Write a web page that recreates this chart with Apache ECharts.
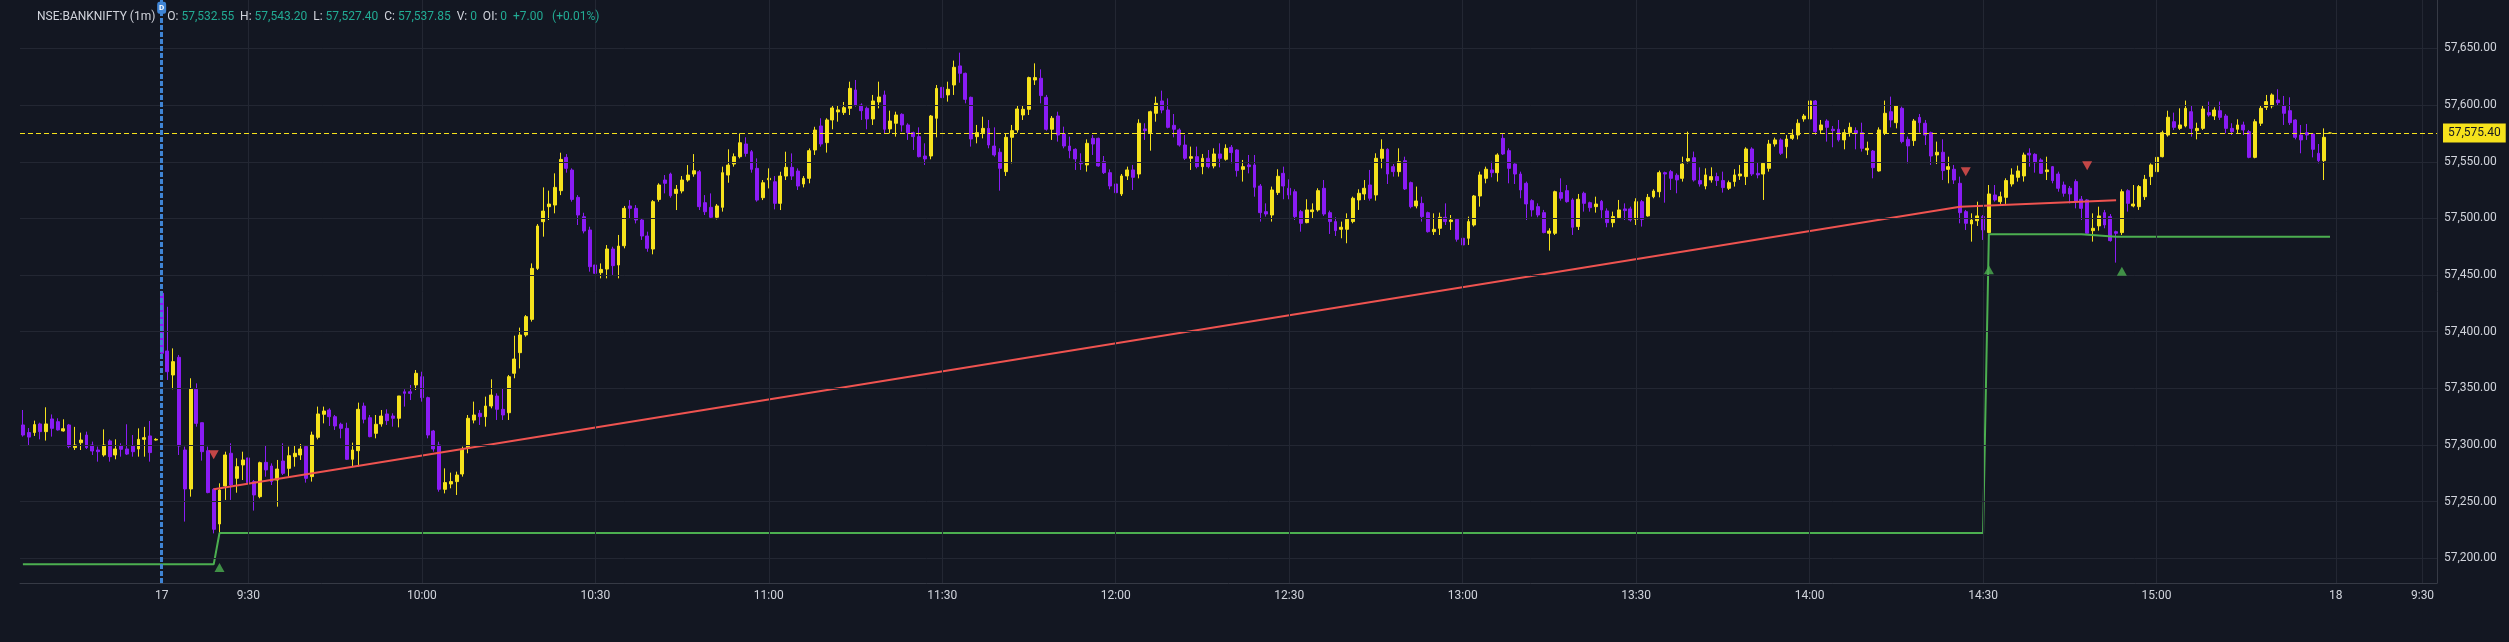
<!DOCTYPE html>
<html>
<head>
<meta charset="utf-8">
<style>
  html, body { margin: 0; padding: 0; background: #131722; }
  #chart { width: 2509px; height: 642px; }
</style>
<script src="https://cdn.jsdelivr.net/npm/echarts@6/dist/echarts.min.js"></script>
</head>
<body>
<div id="chart"></div>
<script>
// tail of the previous session (15:07 - 15:30), [open, high, low, close]
const prevBars = [
  [57317.7, 57330.9, 57307.4, 57308.8], [57311.0, 57315.0, 57300.0, 57307.0], [57311.0, 57321.5, 57308.0, 57318.0],
  [57318.6, 57319.7, 57305.0, 57311.8], [57311.8, 57333.3, 57303.9, 57318.6], [57323.0, 57327.0, 57307.4, 57314.7],
  [57320.6, 57323.6, 57312.7, 57313.3], [57312.4, 57322.7, 57311.8, 57314.4], [57317.7, 57318.6, 57297.1, 57298.6],
  [57297.7, 57316.0, 57295.6, 57300.0], [57302.0, 57310.9, 57295.6, 57304.4], [57308.8, 57311.8, 57296.5, 57297.7],
  [57300.0, 57303.0, 57291.2, 57294.7], [57295.6, 57298.6, 57285.3, 57294.1], [57291.2, 57313.8, 57289.7, 57300.0],
  [57303.6, 57305.0, 57285.3, 57289.7], [57291.2, 57305.0, 57287.4, 57296.5], [57299.4, 57301.5, 57289.7, 57296.2],
  [57296.5, 57318.3, 57291.2, 57292.0], [57299.1, 57308.8, 57289.7, 57294.1], [57296.5, 57314.7, 57289.7, 57305.0],
  [57305.0, 57316.0, 57289.7, 57306.5], [57308.0, 57321.2, 57285.3, 57293.3], [57304.4, 57306.0, 57303.9, 57305.0]
];

// 17th, 9:15 - 15:30, [open, high, low, close]
const dayBars = [
  [57434,57436,57378,57381],[57383,57422,57357.4,57364.7],[57361.8,57385.3,57349.2,57373.6],[57377.4,57379.5,57291.2,57299.1],
  [57295.6,57298.6,57232.4,57261.2],[57261.2,57358.9,57254.4,57349.4],[57349.2,57354.4,57316.2,57319.1],[57319.7,57319.7,57286.2,57294.1],
  [57295,57298.6,57257.4,57258],[57260.9,57261.8,57222,57225.6],[57230.3,57266.2,57222.6,57260.3],[57263.8,57294.1,57251.5,57291.2],
  [57292.7,57301.5,57251.5,57264.7],[57270.6,57288.3,57257.9,57280.9],[57282.4,57294.1,57269.1,57286.8],[57288.6,57300.9,57264.7,57266.8],
  [57267.7,57269.1,57242.1,57255.9],[57254.4,57285.3,57253,57284.4],[57284.7,57300,57272,57278],[57281.5,57283.8,57264.7,57267.7],
  [57269.1,57286.8,57245.6,57278.8],[57285.9,57301.5,57273.5,57275],[57279.4,57298.6,57272.1,57290.6],[57289.7,57299.1,57280.9,57292.7],
  [57291.2,57300.9,57286.8,57296.5],[57298.6,57299.1,57266.8,57270.6],[57272.1,57311.8,57267.7,57308.8],[57306.8,57333.9,57305,57327.4],
  [57327.1,57333.9,57319.1,57330],[57330.9,57332.4,57316.8,57325],[57325,57326.5,57313.3,57316.8],[57318.3,57319.7,57305.9,57314.7],
  [57314.7,57319.7,57286.8,57287.4],[57287.4,57302.1,57280.9,57295.6],[57295,57337.4,57280.9,57331.5],[57334.4,57337.4,57319.1,57322.7],
  [57324.1,57326.5,57306.8,57307.4],[57310.3,57326.5,57305.9,57318.3],[57318.6,57330.9,57316.2,57325.6],[57327.4,57331.5,57317.7,57321.5],
  [57325.6,57328,57316.2,57323.6],[57323.6,57343.3,57315.6,57343.3],[57347,57349.2,57333.9,57345.6],[57347,57353,57339.7,57345.6],
  [57353,57366.2,57348.6,57363.3],[57360.3,57364.7,57338.3,57341.8],[57341.8,57342.7,57305.9,57308.8],[57312.4,57313.3,57294.1,57296.5],
  [57300,57302.9,57258.8,57260.9],[57260.9,57279.4,57257.3,57266.8],[57265.6,57275.6,57261.8,57267.7],[57267.7,57276.5,57255.9,57273.5],
  [57274.4,57298.6,57272.1,57296.2],[57297.1,57326.5,57292.7,57323.6],[57322,57338.3,57319.1,57326.5],[57328,57330.9,57317.7,57325],
  [57325,57342.7,57316.2,57334.4],[57334.4,57358,57332.4,57344.1],[57343.2,57345.6,57322.1,57331.5],[57331.5,57350,57322.1,57326.5],
  [57328.5,57361.8,57322.1,57360.3],[57363.3,57396.5,57358.9,57375.9],[57381.5,57403.6,57367.6,57397.1],[57397.1,57414.7,57395.6,57413.3],
  [57410.9,57460.3,57408.9,57455.9],[57455.9,57495,57454.5,57493.3],[57497.1,57527.4,57483.9,57506.5],[57510.4,57524.5,57498.6,57512.7],
  [57511.8,57539.8,57504.5,57527.4],[57524.5,57558,57520.6,57552.1],[57553.9,57556.8,57540.4,57544.2],[57542.7,57544.2,57514.8,57516.8],
  [57518.6,57520.6,57494.2,57503],[57501.5,57505,57486.8,57488.9],[57489.8,57492.7,57453,57457.4],[57458.9,57460.3,57448.6,57451.5],
  [57452.1,57460.3,57447.1,57455],[57455.3,57476.5,57447.1,57473],[57473,57475,57450.1,57458.3],[57458.9,57485.4,57447.1,57475.6],
  [57475.9,57511,57473.6,57508.9],[57511,57516.2,57500.1,57508.9],[57508.9,57511.8,57495.6,57498.6],[57498.6,57500.1,57481,57484.5],
  [57484.5,57488.3,57470.6,57473.6],[57473,57516.2,57468.3,57514.8],[57516.8,57531,57514.8,57529.5],[57533.9,57538.3,57522.1,57531],
  [57539.2,57540.4,57518.3,57520],[57522.1,57529.5,57507.4,57525.7],[57524.2,57537.4,57522.1,57533.9],[57533.9,57547.1,57532.4,57538.3],
  [57539.2,57556.8,57536.8,57542.1],[57541.2,57542.7,57507.4,57510.4],[57513.9,57520.6,57503,57505.9],[57509.8,57522.1,57500.1,57501],
  [57501,57512.7,57499.2,57511],[57509.8,57545.7,57506,57540.4],[57538.3,57561,57531.5,57547.1],[57548,57557.4,57545.7,57554.5],
  [57554.5,57575.1,57553,57566.8],[57565.7,57571.6,57554.5,57557.4],[57558.9,57560.4,57540.4,57543.3],[57544.2,57553,57514.8,57516.2],
  [57518.3,57533.9,57516.2,57531.5],[57534.1,57544.2,57526.5,57535.4],[57532.4,57537.4,57508,57513.3],[57513.3,57541.2,57507.4,57537.4],
  [57537.4,57558.9,57533.9,57545.1],[57545.1,57557.4,57533.9,57537.4],[57541.8,57544.2,57525.1,57528.6],[57530.4,57537.4,57527.4,57535.4],
  [57535.4,57561.8,57531,57559.8],[57560.4,57580.9,57556,57578],[57581.6,57588.4,57563.4,57565.7],[57566.9,57588.4,57558.1,57586.9],
  [57586.9,57600.1,57578.7,57597.5],[57594,57600.1,57585.4,57595.8],[57593.4,57602.8,57591.3,57597.8],[57597.2,57620.7,57591.3,57614.8],
  [57613.4,57622.2,57598.7,57600.1],[57600.1,57601.6,57586.9,57595.1],[57597.2,57598.7,57578.7,57587.8],[57587.8,57609,57582.5,57603.7],
  [57602.8,57620.7,57597.2,57607.2],[57609,57612.8,57575.1,57578.7],[57579,57595.1,57575.1,57586],[57584,57594.2,57572.2,57591.3],
  [57591.9,57592.8,57576.6,57582.5],[57582.5,57584,57569.3,57575.7],[57575.7,57576.6,57560.4,57572.2],[57572.2,57580.4,57553.9,57554.5],
  [57555.1,57566.3,57547.2,57552.5],[57555.1,57591.3,57552.2,57590.4],[57588.4,57617.8,57571.6,57614.8],[57615.7,57616.3,57601,57606.6],
  [57609,57620.7,57603.1,57614],[57617.8,57639.3,57609,57633.4],[57634.6,57646.3,57619.8,57628.1],[57628.1,57628.7,57601.6,57605.1],
  [57606.9,57607.5,57563.4,57570.1],[57572.2,57582.5,57566.3,57575.7],[57575.7,57589.8,57570.7,57579.5],[57579.5,57586.9,57561.9,57564.8],
  [57563.9,57580.4,57554.5,57556],[57558.4,57561.9,57524.5,57544.2],[57541.3,57575.1,57537.5,57571.6],[57571.6,57582.5,57548.6,57577.5],
  [57578.1,57599.3,57575.7,57596.6],[57591.3,57600.1,57586.9,57596.3],[57596.3,57625.1,57591.3,57624.3],[57622.2,57636.9,57617.8,57624.3],
  [57623.7,57631.6,57601.6,57608.4],[57606.9,57609,57577.5,57578.7],[57578.7,57590.4,57569.3,57588.4],[57590.4,57594.2,57567.8,57573.6],
  [57574.5,57581,57561.9,57563.9],[57563.9,57572.2,57553.1,57559.8],[57561,57561.9,57542.8,57552.5],[57549.8,57557.5,57542.8,57548.3],
  [57547.2,57569.8,57541.3,57566.3],[57570.7,57573.6,57556,57565.7],[57570.7,57571.3,57545.7,57546.3],[57550.1,57555.1,57539.2,57540.4],
  [57540.4,57543.3,57525.7,57528.6],[57530.4,57545.7,57520.7,57522.7],[57521.6,57539.2,57519.8,57537.5],[57537.5,57545.7,57533.9,57542.8],
  [57542.8,57547.2,57525.1,57536.3],[57539.2,57587.5,57535.4,57584],[57579,57584,57569.3,57577.5],[57575.7,57595.1,57559.8,57594.2],
  [57592.8,57607.5,57585.4,57601.6],[57603.7,57612.8,57592.8,57595.7],[57595.7,57606,57579.5,57580.4],[57582.2,57592.2,57571.6,57578.7],
  [57578.1,57579.5,57563.4,57564.8],[57564.8,57573.6,57551.6,57553.1],[57553.1,57563.4,57542.8,57554.5],[57554.5,57563.4,57544.2,57545.7],
  [57545.7,57556.9,57539,57553.1],[57553.1,57560.4,57544.2,57545.7],[57546.3,57561.9,57544.2,57556.9],[57556.9,57566.3,57545.1,57553.1],
  [57552.2,57565.4,57551,57561.9],[57562.8,57564.8,57548.6,57558.1],[57560.4,57561,57536.9,57542.2],[57543.3,57551.6,57532.5,57545.7],
  [57547.2,57556,57539.8,57545.7],[57547.2,57556,57519.2,57527.5],[57528.6,57530.4,57497.2,57505.1],[57506,57513.3,57501.6,57503.9],
  [57503,57528.1,57497.2,57525.1],[57522.8,57543.4,57520.7,57537.2],[57539.8,57545.7,57516.9,57528.6],[57526.6,57534.5,57516.9,57520.7],
  [57523.6,57525.7,57498.6,57501.6],[57506,57507.5,57488.3,57495.7],[57496.3,57516.9,57495.7,57507.5],[57506,57513.3,57500.1,57507.5],
  [57507.5,57526.6,57506,57524.5],[57526.6,57533.9,57502.2,57503.9],[57505.1,57506.9,57486.3,57497.2],[57497.2,57501,57484.5,57489.2],
  [57490.4,57497.2,57482.5,57492.2],[57490.4,57504.5,57478.1,57499.2],[57497.2,57519.2,57495.7,57517.8],[57516.3,57525.7,57507.5,57522.2],
  [57521.6,57533.9,57516.3,57526.6],[57529.5,57542.8,57515.7,57517.8],[57520.7,57557.5,57515.7,57553.1],[57553.1,57569.8,57544.2,57561],
  [57561,57561.9,57530.4,57539.2],[57545.7,57548,57536.9,57541.3],[57541.3,57561.9,57536.9,57550.1],[57551,57554.5,57525.1,57526],
  [57531.6,57532.5,57508.9,57510.4],[57511,57528.1,57508.9,57515.4],[57513.3,57519.2,57497.2,57501.6],[57505.1,57506,57487.5,57488.3],
  [57488.3,57504.5,57485.4,57490.4],[57491.3,57505.1,57485.4,57501],[57501,57513.3,57494.2,57497.2],[57497.2,57503,57489.8,57498.6],
  [57499.2,57500.1,57479.5,57481.6],[57482.5,57492.8,57472.7,57476.6],[57482.5,57501.6,57476.6,57497.2],[57494.2,57520.7,57492.8,57519.8],
  [57519.8,57541.3,57510.4,57538.4],[57535.4,57545.7,57531,57543.4],[57542.8,57550.1,57536.3,57540.4],[57540.4,57557.5,57532.5,57556],
  [57570.7,57575.1,57556,57556.9],[57559.8,57561.9,57531,57544.2],[57548,57548.6,57530.4,57539.2],[57539.2,57541.3,57517.8,57525.1],
  [57531,57532.5,57498.6,57512.8],[57515.7,57516.9,57501.6,57507.5],[57510.4,57513.3,57501,57503],[57505.1,57507.5,57486.9,57487.5],
  [57486.9,57491.3,57471.6,57488.9],[57486.9,57524.5,57485.4,57523.6],[57522.8,57535.4,57515.7,57517.8],[57524.5,57529.5,57513.9,57514.8],
  [57516.3,57517.8,57485.4,57492.2],[57492.8,57521.6,57489.8,57516.9],[57522.2,57523.6,57506,57513.3],[57513.9,57514.8,57506,57509.5],
  [57510.4,57519.2,57505.1,57512.7],[57515.1,57516.3,57500.1,57507.5],[57506.6,57508.9,57492.2,57496.3],[57496.3,57506,57492.2,57501.6],
  [57500.7,57516.3,57499.5,57507.5],[57508.4,57513.3,57498.6,57506.9],[57508.4,57510.4,57497.2,57498.6],[57499.2,57517.8,57494.2,57514.8],
  [57514.8,57516.3,57492.8,57499.2],[57502.2,57521.6,57501.6,57518.6],[57519.2,57525.7,57517.8,57524.2],[57523.6,57542.2,57518.6,57540.4],
  [57540.4,57541.3,57513.9,57539.2],[57541.3,57542.8,57525.1,57535.4],[57538.1,57539.8,57522.2,57534],[57535.4,57554.5,57532.5,57548],
  [57550.7,57576.6,57548.6,57552.8],[57553.6,57559,57532.5,57533.9],[57533.4,57545.1,57528.1,57530.4],[57528.6,57544.2,57525.7,57538.4],
  [57534,57545.1,57531.6,57536.9],[57536.9,57540.4,57528.6,57533.4],[57533.4,57541.3,57522.8,57527.2],[57526.6,57533.4,57525.1,57531.6],
  [57532.5,57543.4,57528.1,57538.4],[57537.5,57547.2,57534,57539.2],[57536.9,57562.8,57529.5,57561.3],[57561.3,57562.8,57537.5,57539.2],
  [57539.8,57549.2,57535.4,57538.4],[57539.2,57549.2,57516.3,57548.6],[57544.2,57569.3,57541.3,57565.7],[57565.7,57571.3,57563.4,57569.3],
  [57569.3,57570.7,57556,57557.5],[57563.3,57573.6,57553.1,57570.1],[57570.7,57578.7,57569.3,57573.6],[57573.6,57587.5,57569.8,57584],
  [57587.8,57592.2,57585.4,57590.4],[57587.8,57610.4,57586.9,57603.7],[57603.7,57604.5,57573.6,57576.6],[57578.1,57586.9,57575.1,57582.5],
  [57586,57587.5,57567.8,57580.4],[57578.7,57581.6,57562.8,57577.5],[57578.7,57586.9,57567.8,57569.3],[57569.3,57578.7,57561,57575.7],
  [57575.7,57584.5,57572.2,57580.4],[57577.5,57580.4,57561,57575.1],[57575.7,57584.5,57559,57561.9],[57560.4,57567.8,57556,57561.9],
  [57559.5,57560.4,57535.4,57544.8],[57541.9,57580.4,57541.3,57578.1],[57575.1,57604,57573.6,57592.8],[57594.2,57607.5,57580.4,57586.9],
  [57584.5,57600.1,57579.5,57599.3],[57597.2,57598.7,57566.3,57567.8],[57569.8,57572.2,57548.6,57564],[57568.7,57587.8,57564,57586],
  [57589.2,57592.2,57575.7,57584.5],[57584,57586.9,57564.8,57573.6],[57575.7,57576.6,57547.2,57555.1],[57556,57567.8,57548,57558.4],
  [57558.4,57569.8,57533.9,57542.2],[57543.3,57554.5,57531,57545.7],[57543.4,57547.2,57530.4,57533.9],[57531,57536.9,57495.7,57505.1],
  [57506,57507.5,57489.8,57495.7],[57495.1,57504.5,57479.5,57498.6],[57498,57514.8,57493.4,57502.2],[57501.6,57503,57481,57489.8],
  [57487.5,57529.5,57486.9,57521.6],[57520.7,57529.5,57514.8,57516.3],[57514.8,57523.6,57512.8,57519.2],[57518.6,57535.4,57512.8,57533.4],
  [57530.4,57544.2,57528.1,57538.4],[57536.3,57546.6,57532.5,57541.9],[57537.5,57558.1,57532.5,57556],[57557.5,57561.9,57545.7,57556],
  [57556.6,57557.5,57540.4,57549.2],[57551.6,57553.1,57539.2,57539.8],[57541.3,57554.5,57533.9,57542.8],[57545.7,57546.3,57531,57533.4],
  [57539.2,57541.3,57523.6,57526.6],[57529.5,57532.5,57519.2,57522.2],[57526.6,57528.6,57513.3,57521.6],[57532.5,57534.5,57508.9,57514.8],
  [57516.9,57519.8,57498.6,57508.9],[57516.3,57516.9,57486.3,57486.9],[57489.2,57504.5,57479.5,57491.3],[57493.4,57510.4,57489.2,57502.2],
  [57505.1,57507.5,57491.3,57494.2],[57501.6,57503.9,57479.5,57480.4],[57488.3,57489.2,57461,57486.9],[57487.5,57525.7,57485.4,57523.6],
  [57524.5,57525.7,57506,57513.3],[57511,57529.5,57509.8,57512.7],[57510.4,57529.5,57507.5,57528.1],[57519.2,57538.4,57516.3,57534.5],
  [57536.9,57548.6,57529.5,57547.2],[57541.3,57556.9,57521.6,57553.9],[57554.5,57577.5,57553.9,57575.7],[57573.6,57595.1,57572.2,57589.3],
  [57585.4,57593.4,57578.1,57580.4],[57579.5,57597.2,57578.1,57582.5],[57581.6,57604,57580.4,57597.2],[57594.2,57599.3,57572.2,57579.5],
  [57577.5,57584.5,57569.8,57579.5],[57579.5,57599.3,57578.1,57596.6],[57593.4,57603.1,57589.8,57591.3],[57590.4,57598.1,57586.9,57595.7],
  [57595.1,57603.1,57586.9,57589.2],[57590.4,57592.2,57575.1,57579.5],[57579.5,57584,57573.6,57576.6],[57578.7,57587.5,57575.1,57582.5],
  [57582.5,57585.4,57573.6,57578.1],[57576.6,57578.1,57553.1,57553.9],[57553.9,57587.5,57553.1,57585.4],[57584,57600.1,57581.6,57597.2],
  [57598.1,57609,57595.7,57603.1],[57599.3,57610.4,57597.2,57609],[57604.5,57614,57600.1,57602.2],[57599.3,57608.1,57582.5,57592.8],
  [57595.1,57606.9,57582.5,57584.5],[57586.9,57587.5,57569.8,57571.6],[57573.6,57582.5,57557.5,57569.3],[57575.7,57583.4,57569.3,57573.6],
  [57574.5,57575.1,57553.9,57561],[57557.5,57565.7,57548.6,57551],[57551,57579.5,57533.9,57571.6],[57575.4,57576,57575,57575.4]
];

// empty slots on the next day shown right of the last bar
const futureSlots = 18;

// axis labels
const timeTicks = ['9:30', '10:00', '10:30', '11:00', '11:30', '12:00', '12:30', '13:00', '13:30', '14:00', '14:30', '15:00'];
const priceTicks = [57200, 57250, 57300, 57350, 57400, 57450, 57500, 57550, 57600, 57650];

// indicator lines, [bar slot, price]
const redLine = [[33, 57260.9], [335, 57510.3], [362, 57516.0]];
const greenLine = [[0, 57194.7], [33, 57194.7], [34, 57222.3], [339, 57222.3], [340, 57486.0], [356, 57486.0], [362, 57483.8], [399, 57483.8]];
const sellMarks = [[33, 57291.4], [336, 57541.2], [357, 57546.5]];
const buyMarks = [[34, 57191.8], [340, 57454.6], [363, 57453.3]];

const lastPrice = 57575.40;
const stopPrice = 57483.80;
const sessionFlagPrice = 57686.0;
const header = {
  symbol: 'NSE:BANKNIFTY (1m)',
  o: '57,532.55', h: '57,543.20', l: '57,527.40', c: '57,537.85',
  v: '0', oi: '0', chg: '+7.00', pct: '(+0.01%)'
};

const UP = '#f6e21c';
const DOWN = '#8a1cf4';
const GRID = '#232733';
const TEXT = '#d1d4dc';
const FONT = 'Roboto, "Liberation Sans", sans-serif';

function pad(n) { return n < 10 ? '0' + n : '' + n; }
function slotName(day, minute) {
  const t = 9 * 60 + 15 + minute;
  return day + ' ' + Math.floor(t / 60) + ':' + pad(t % 60);
}

// category names
const categories = [];
for (let i = 0; i < prevBars.length; i++) {
  const t = 15 * 60 + 30 - (prevBars.length - 1 - i);
  categories.push('16 ' + Math.floor(t / 60) + ':' + pad(t % 60));
}
for (let i = 0; i < dayBars.length; i++) categories.push(slotName(17, i));
for (let i = 0; i < futureSlots; i++) categories.push(slotName(18, i));

const labelMap = {};
labelMap[slotName(17, 0)] = '17';
timeTicks.forEach(t => { labelMap['17 ' + t] = t; });
labelMap[slotName(18, 0)] = '18';
labelMap['18 9:30'] = '9:30';

const candleData = prevBars.concat(dayBars).map(([o, h, l, c]) => [o, c, l, h]);

const fmtPrice = v => v.toLocaleString('en-US', {minimumFractionDigits: 2, maximumFractionDigits: 2});

const hs = {fontSize: 12, fontWeight: 'normal', fontFamily: FONT};

const chart = echarts.init(document.getElementById('chart'));
chart.setOption({
  backgroundColor: '#131722',
  animation: false,
  textStyle: {fontFamily: FONT},
  title: {
    left: 32, top: 6,
    text: `{s|${header.symbol}}    {l|O:} {v|${header.o}}  {l|H:} {v|${header.h}}  {l|L:} {v|${header.l}}  {l|C:} {v|${header.c}}  {l|V:} {v|${header.v}}  {l|OI:} {v|${header.oi}}  {v|${header.chg}}   {v|${header.pct}}`,
    textStyle: Object.assign({color: TEXT, rich: {
      s: Object.assign({color: TEXT}, hs),
      l: Object.assign({color: TEXT}, hs),
      v: Object.assign({color: '#22ab94'}, hs)
    }}, hs)
  },
  grid: {left: 20, right: 72, top: 0, bottom: 59, outerBoundsMode: 'none'},
  xAxis: {
    type: 'category',
    data: categories,
    boundaryGap: true,
    axisLine: {lineStyle: {color: '#363a45'}},
    axisTick: {show: false},
    splitLine: {show: false},
    axisLabel: {
      interval: (i, name) => labelMap[name] !== undefined,
      formatter: name => labelMap[name] || '',
      color: TEXT, fontSize: 12, margin: 7
    }
  },
  yAxis: {
    type: 'value',
    position: 'right',
    min: 57178.2, max: 57692.8,
    axisLine: {show: true, lineStyle: {color: '#363a45'}},
    axisTick: {show: false},
    splitLine: {show: false},
    axisLabel: {
      customValues: priceTicks,
      formatter: fmtPrice,
      color: TEXT, fontSize: 12, margin: 7
    }
  },
  series: [
    {
      // grid lines
      type: 'line',
      data: [],
      silent: true,
      markLine: {
        silent: true,
        symbol: 'none',
        animation: false,
        label: {show: false},
        data: priceTicks.map(v => ({yAxis: v, lineStyle: {color: GRID, width: 1, type: 'solid'}}))
          .concat(Object.keys(labelMap).filter(n => n !== slotName(17, 0)).map(n => ({xAxis: n, lineStyle: {color: GRID, width: 1, type: 'solid'}})))
      }
    },
    {
      type: 'candlestick',
      data: candleData,
      barWidth: 3.4,
      z: 3,
      itemStyle: {color: UP, color0: DOWN, borderColor: UP, borderColor0: DOWN, borderWidth: 1}
    },
    {
      type: 'line',
      data: redLine,
      symbol: 'none',
      z: 4,
      lineStyle: {color: '#ef5350', width: 2}
    },
    {
      type: 'line',
      data: greenLine,
      symbol: 'none',
      z: 4,
      lineStyle: {color: '#4caf50', width: 2},
      markLine: {
        silent: true,
        symbol: 'none',
        data: [{
          yAxis: stopPrice,
          lineStyle: {opacity: 0},
          label: {
            show: true, position: 'end', distance: 6,
            formatter: fmtPrice(stopPrice),
            color: '#ffffff', backgroundColor: '#4caf50',
            padding: [4, 5, 3, 5], fontSize: 12
          }
        }]
      }
    },
    {
      type: 'scatter',
      data: sellMarks,
      symbol: 'triangle',
      symbolRotate: 180,
      symbolSize: [10, 9],
      z: 5,
      itemStyle: {color: '#ef5350'}
    },
    {
      type: 'scatter',
      data: buyMarks,
      symbol: 'triangle',
      symbolSize: [10, 9],
      z: 5,
      itemStyle: {color: '#4caf50'}
    },
    {
      type: 'line',
      data: [],
      z: 6,
      markLine: {
        silent: true,
        symbol: 'none',
        data: [
          {
            yAxis: lastPrice,
            lineStyle: {color: '#f6e21c', width: 1, type: [5, 3]},
            label: {
              show: true, position: 'end', distance: 6,
              formatter: fmtPrice(lastPrice),
              color: '#131722', backgroundColor: '#f6e21c',
              padding: [4, 5, 3, 5], fontSize: 12
            }
          },
          {
            xAxis: slotName(17, 0),
            lineStyle: {color: '#3f84d4', width: 3, type: [5, 2]},
            label: {show: false}
          }
        ]
      },
      markPoint: {
        silent: true,
        data: [{
          coord: [slotName(17, 0), sessionFlagPrice],
          symbol: 'roundRect',
          symbolSize: [9, 12],
          itemStyle: {color: '#3f84d4'},
          label: {show: true, formatter: 'D', color: '#ffffff', fontSize: 8, fontWeight: 'bold'}
        }]
      }
    }
  ]
});
</script>
</body>
</html>
